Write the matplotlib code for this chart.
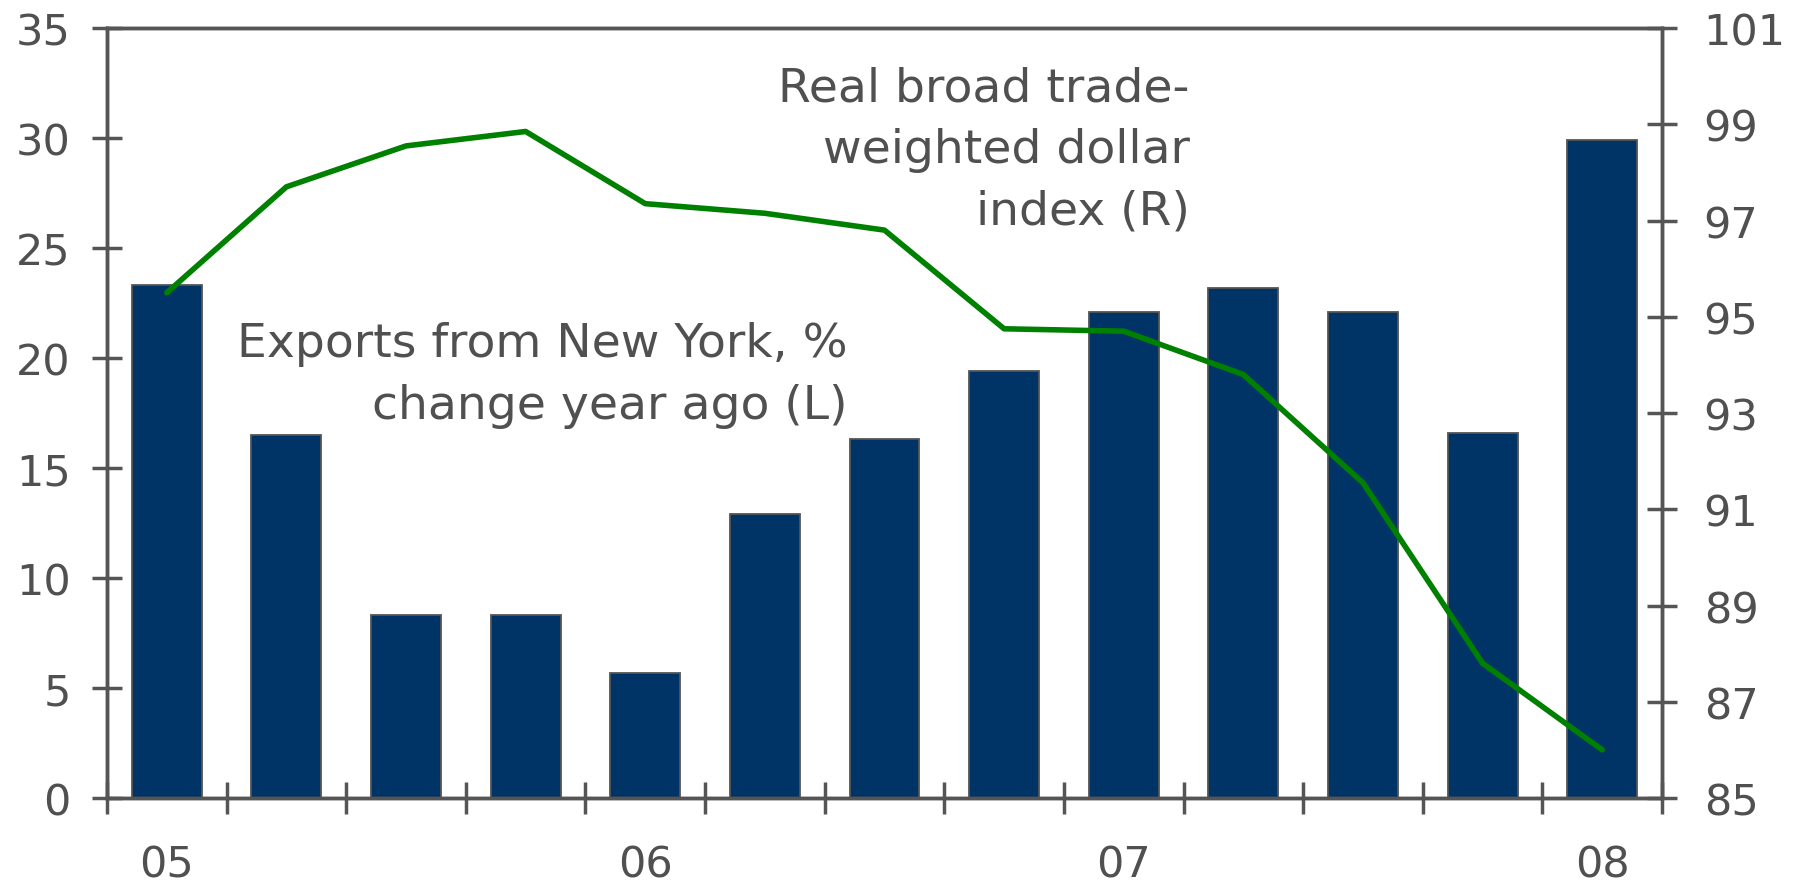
import matplotlib
matplotlib.use("Agg")
import matplotlib.pyplot as plt
import numpy as np

quarters = ["05Q1", "05Q2", "05Q3", "05Q4", "06Q1", "06Q2", "06Q3", "06Q4",
            "07Q1", "07Q2", "07Q3", "07Q4", "08Q1"]
exports_pct = [23.3, 16.5, 8.3, 8.3, 5.7, 12.9, 16.3, 19.4, 22.1, 23.2, 22.1, 16.6, 29.9]
dollar_index = [95.5, 97.7, 98.55, 98.85, 97.35, 97.15, 96.8, 94.75, 94.7, 93.8, 91.55, 87.8, 86.0]
year_labels = ["05", "06", "07", "08"]
year_label_pos = [0, 4, 8, 12]

GREY = "#555555"
TXT = "#505050"
BAR = "#003366"
GREEN = "#008000"

fig = plt.figure(figsize=(18.01, 8.87), dpi=100)
ax = fig.add_axes([107 / 1801, 0.0992, (1662 - 107) / 1801, 0.8681])
x = np.arange(len(quarters))
ax.bar(x, exports_pct, width=0.585, color=BAR, edgecolor=GREY, linewidth=1.3, zorder=2)
ax.set_xlim(-0.5, len(quarters) - 0.5)
ax.set_ylim(0, 35)
ax.set_yticks(np.arange(0, 36, 5))

ax2 = ax.twinx()
ax2.plot(x, dollar_index, color=GREEN, linewidth=4.0, zorder=3, solid_capstyle="round")
ax2.set_ylim(85, 101)
ax2.set_yticks(np.arange(85, 102, 2))

for a in (ax, ax2):
    for s in a.spines.values():
        s.set_color(GREY)
        s.set_linewidth(2.5)

ax.set_xticks(year_label_pos)
ax.set_xticklabels(year_labels)
ax.set_xticks(np.arange(-0.5, len(quarters), 1.0), minor=True)
ax.tick_params(axis="x", which="major", length=0, pad=33, labelsize=31, labelcolor=TXT)
ax.tick_params(axis="x", which="minor", direction="inout", length=23, width=2.5, color=GREY)
ax.tick_params(axis="y", direction="inout", length=22, width=2.5, color=GREY,
               labelsize=31, labelcolor=TXT, pad=15)
ax2.tick_params(axis="y", direction="inout", length=22, width=2.5, color=GREY,
                labelsize=31, labelcolor=TXT, pad=19)

ax2.text(8.55, 96.94, "Real broad trade-\nweighted dollar\nindex (R)", ha="right", va="baseline",
         fontsize=34, color=TXT, linespacing=1.47)
ax.text(5.69, 17.29, "Exports from New York, %\nchange year ago (L)", ha="right", va="baseline",
        fontsize=34, color=TXT, linespacing=1.47)

fig.savefig("out.png", dpi=100)
